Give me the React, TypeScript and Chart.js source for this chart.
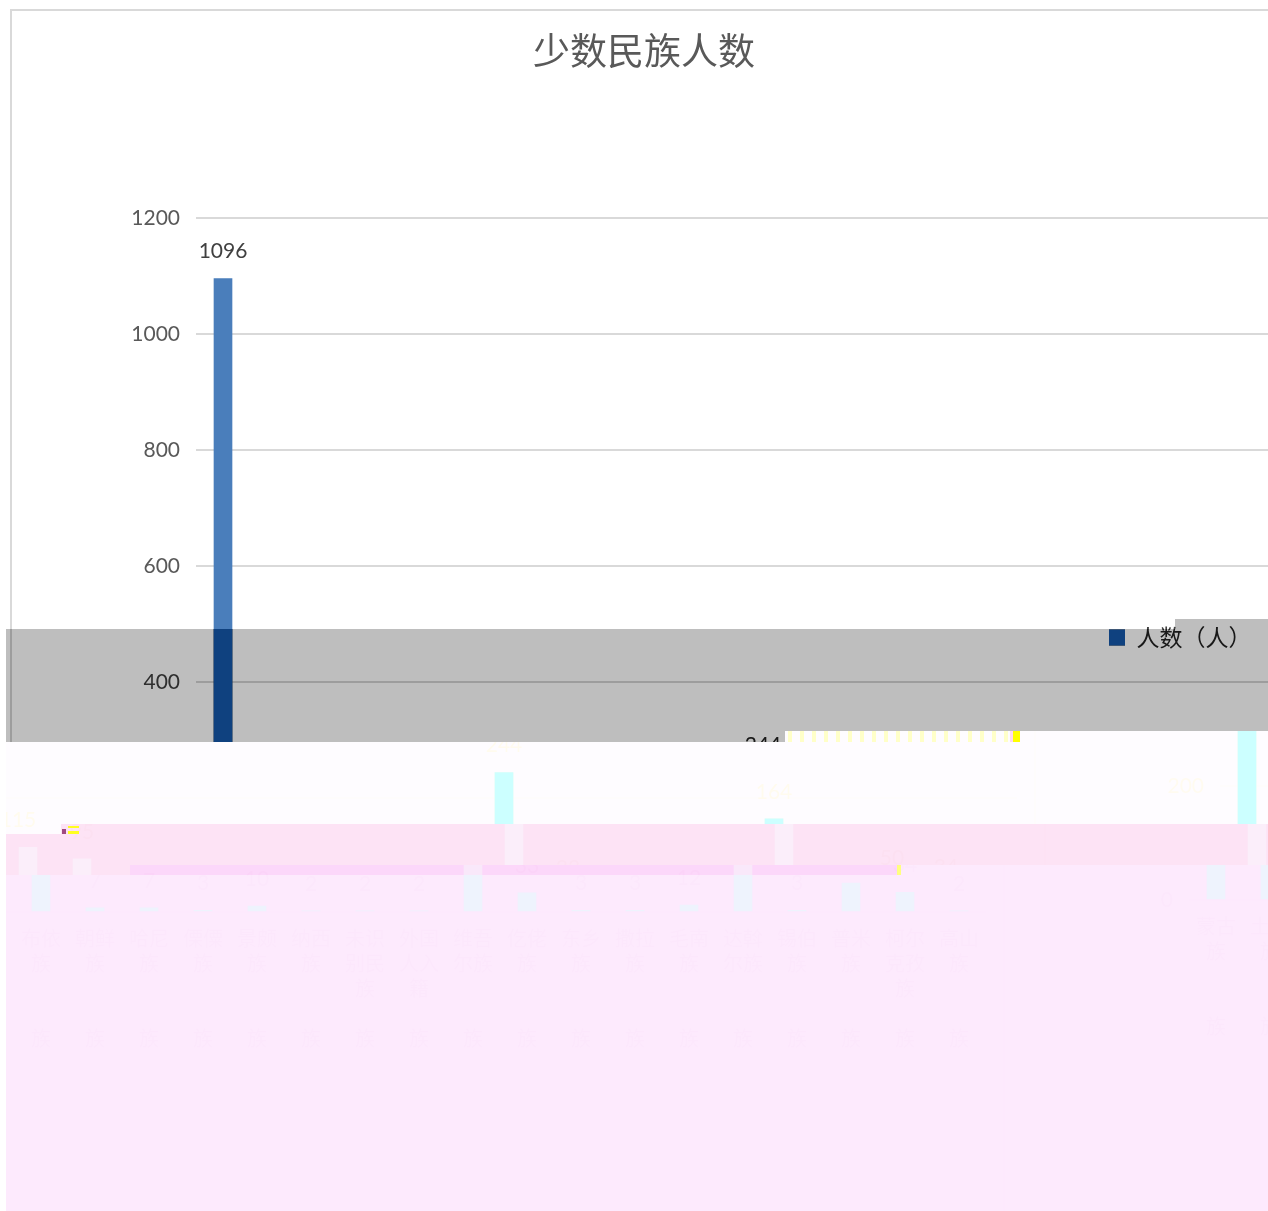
import React, { useEffect, useRef } from "react";
import { Chart, registerables } from "chart.js";

Chart.register(...registerables);

const chartTitle = "少数民族人数";
const seriesName = "人数（人）";
const groups = [
  "蒙古族", "土家族", "布依族", "朝鲜族", "哈尼族", "傈僳族", "景颇族", "纳西族", "未识别民族", "外国人入籍",
  "维吾尔族", "仡佬族", "东乡族", "撒拉族", "毛南族", "达斡尔族", "锡伯族", "普米族", "柯尔克孜族", "高山族",
];
const values = [1096, 115, 95, 7, 7, 3, 10, 2, 2, 2, 244, 33, 3, 3, 12, 164, 3, 50, 34, 2];
const yTicks = [0, 200, 400, 600, 800, 1000, 1200];

const CW = 1283;
const CH = 1211;

function labelLines(name: string) {
  const lines: string[] = [];
  for (let i = 0; i < name.length; i += 2) lines.push(name.slice(i, i + 2));
  while (lines.length < 4) lines.push("");
  lines.push("族");
  return lines;
}

type RGB = [number, number, number];
type Tone = { bg: RGB; bar: RGB; ink: RGB };
const gray: Tone = { bg: [190, 190, 190], bar: [15, 65, 127], ink: [25, 25, 25] };
const pale: Tone = { bg: [254, 252, 255], bar: [204, 255, 255], ink: [255, 251, 238] };
const rose: Tone = { bg: [253, 227, 245], bar: [251, 238, 250], ink: [252, 224, 241] };
const orchid: Tone = { bg: [252, 215, 250], bar: [249, 232, 250], ink: [251, 211, 248] };
const lilac: Tone = { bg: [253, 234, 253], bar: [238, 243, 253], ink: [252, 231, 252] };

// Scan-line bands of the damaged picture: [x, y, w, h] rectangles, a horizontal slip and a vertical slip.
const bands: { rects: number[][]; dx: number; dy: number; tone: Tone }[] = [
  { rects: [[1175, 619, 93, 10], [6, 629, 1262, 102], [6, 731, 779, 11]], dx: 0, dy: 0, tone: gray },
  { rects: [[785, 731, 483, 11], [6, 742, 1262, 82], [6, 824, 55, 10]], dx: -259, dy: 0, tone: pale },
  { rects: [[61, 824, 1207, 41], [6, 834, 55, 31], [6, 865, 124, 10]], dx: -249, dy: 0, tone: rose },
  { rects: [[130, 865, 768, 10]], dx: -290, dy: 2, tone: orchid },
  { rects: [[898, 865, 370, 10], [6, 875, 1262, 336]], dx: -290, dy: 2, tone: lilac },
];
const specks: [number, number, number, number, string][] = [
  [68, 826, 11, 2, "#ffff20"],
  [68, 831, 11, 3, "#ffff20"],
  [62, 829, 4, 5, "#a04a80"],
  [1010, 731, 3, 11, "#ffd8f0"],
  [1013, 731, 7, 11, "#ffff00"],
  [897, 865, 4, 10, "#ffff80"],
];

const damage = {
  id: "damage",
  beforeDraw(chart: any) {
    const { ctx } = chart;
    ctx.save();
    ctx.fillStyle = "#ffffff";
    ctx.fillRect(0, 0, CW, CH);
    ctx.strokeStyle = "#d9d9d9";
    ctx.lineWidth = 2;
    ctx.strokeRect(11, 10, CW + 40, CH + 40);
    ctx.restore();
  },
  afterDatasetsDraw(chart: any) {
    const { ctx } = chart;
    const meta = chart.getDatasetMeta(0);
    ctx.save();
    ctx.font = "21px Lato";
    ctx.fillStyle = "#404040";
    ctx.textAlign = "center";
    ctx.textBaseline = "middle";
    meta.data.forEach((bar: any, i: number) => {
      ctx.fillText(String(chart.data.datasets[0].data[i]), bar.x, bar.y - 27);
    });
    ctx.restore();
  },
  afterLayout(chart: any) {
    const lg = chart.legend;
    if (!lg) return;
    const w = lg.width;
    lg.left = 1101;
    lg.right = 1101 + w;
    lg.top = 618;
    lg.bottom = 650;
  },
  afterDraw(chart: any) {
    const { ctx } = chart;
    const src = ctx.getImageData(0, 0, CW, CH);
    const out = ctx.getImageData(0, 0, CW, CH);
    const s = src.data;
    const d = out.data;
    for (const b of bands) {
      for (const [rx, ry, rw, rh] of b.rects) {
        for (let y = ry; y < ry + rh && y < CH; y++) {
          for (let x = rx; x < rx + rw; x++) {
            let sx = x - b.dx;
            let sy = y + b.dy;
            if (sx >= CW) {
              sx -= CW;
              sy += 12;
            }
            sy = Math.min(sy, CH - 1);
            const si = (sy * CW + sx) * 4;
            const r = s[si], bl = s[si + 2];
            const bar = Math.max(0, Math.min(1, (bl - r) / 113));
            const dark = Math.max(0, Math.min(1, (255 - r) / 191)) * (1 - bar);
            const bgk = Math.max(0, 1 - bar - dark);
            const di = (y * CW + x) * 4;
            for (let c = 0; c < 3; c++) {
              d[di + c] = b.tone.bg[c] * bgk + b.tone.bar[c] * bar + b.tone.ink[c] * dark;
            }
            d[di + 3] = 255;
          }
        }
      }
    }
    ctx.putImageData(out, 0, 0);
    ctx.save();
    ctx.setTransform(1, 0, 0, 1, 0, 0);
    ctx.fillStyle = "#ffffc8";
    for (let x = 788; x < 1008; x += 12) ctx.fillRect(x, 731, 4, 11);
    for (const [x, y, w, h, c] of specks) {
      ctx.fillStyle = c;
      ctx.fillRect(x, y, w, h);
    }
    ctx.restore();
  },
};

export default function App() {
  const ref = useRef<HTMLCanvasElement>(null);
  useEffect(() => {
    const chart = new Chart(ref.current as HTMLCanvasElement, {
      type: "bar",
      data: {
        labels: groups.map(labelLines),
        datasets: [
          { label: seriesName, data: values, backgroundColor: "#4a7ebb", barThickness: 18 },
        ],
      },
      options: {
        animation: false,
        responsive: false,
        devicePixelRatio: 1,
        layout: { padding: { top: 29, left: 12, right: 7, bottom: 0 } },
        plugins: {
          tooltip: { enabled: false },
          title: {
            display: true,
            text: chartTitle,
            color: "#595959",
            font: { family: '"Noto Sans CJK SC"', size: 37, weight: "normal" },
            padding: { top: 0, bottom: 145 },
          },
          legend: {
            position: "chartArea",
            align: "start",
            labels: {
              boxWidth: 16,
              boxHeight: 16,
              color: "#404040",
              padding: 8,
              font: { family: '"Noto Sans CJK SC"', size: 23 },
            },
          },
        },
        scales: {
          x: {
            grid: { display: false },
            border: { display: false },
            afterFit: (s: any) => {
              s.height = 297;
            },
            ticks: {
              autoSkip: false,
              maxRotation: 0,
              minRotation: 0,
              padding: 6,
              color: "#595959",
              font: { family: '"Noto Sans CJK SC"', size: 20, lineHeight: 1.25 },
            },
          },
          y: {
            min: 0,
            max: yTicks[yTicks.length - 1],
            afterFit: (s: any) => {
              s.width = 184;
            },
            border: { display: false },
            grid: { color: "#d9d9d9", lineWidth: 2, drawTicks: false },
            ticks: {
              stepSize: yTicks[1] - yTicks[0],
              padding: 16,
              color: "#595959",
              font: { family: "Lato", size: 21 },
              callback: (v: any) => String(v),
            },
          },
        },
      },
      plugins: [damage],
    } as any);
    return () => chart.destroy();
  }, []);
  return (
    <div style={{ position: "absolute", left: 0, top: 0, width: 1268, height: 1211, overflow: "hidden", background: "#fff" }}>
      <canvas ref={ref} width={CW} height={CH} style={{ display: "block" }} />
    </div>
  );
}
